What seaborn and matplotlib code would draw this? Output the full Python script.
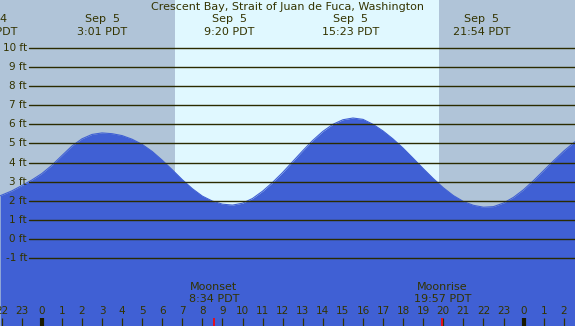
import numpy as np
import matplotlib
matplotlib.use("Agg")
import matplotlib.pyplot as plt
import seaborn as sns

# --- Data ---
TITLE = "Crescent Bay, Strait of Juan de Fuca, Washington"

# tide height (ft) against hours from midnight Sep 5 (PDT), read every half hour
tide_hours = [-2.07, -1.5, -1.0, -0.5, 0.0, 0.5, 1.0, 1.5, 2.0, 2.5, 3.0, 3.5, 4.0,
              4.5, 5.0, 5.5, 6.0, 6.5, 7.0, 7.5, 8.0, 8.5, 9.0, 9.5, 10.0, 10.5, 11.0,
              11.5, 12.0, 12.5, 13.0, 13.5, 14.0, 14.5, 15.0, 15.5, 16.0, 16.5, 17.0,
              17.5, 18.0, 18.5, 19.0, 19.5, 20.0, 20.5, 21.0, 21.5, 22.0, 22.5, 23.0,
              23.5, 24.0, 24.5, 25.0, 25.5, 26.0, 26.56]
tide_ft = [2.26, 2.51, 2.79, 3.08, 3.42, 3.85, 4.36, 4.86, 5.24, 5.47, 5.55, 5.51, 5.41,
           5.22, 4.95, 4.58, 4.12, 3.62, 3.10, 2.63, 2.24, 1.98, 1.82, 1.77, 1.87, 2.12, 2.50,
           2.96, 3.48, 4.05, 4.62, 5.16, 5.63, 6.00, 6.24, 6.33, 6.26, 6.00, 5.65,
           5.23, 4.75, 4.22, 3.68, 3.16, 2.68, 2.27, 1.96, 1.76, 1.66, 1.69, 1.88,
           2.18, 2.58, 3.06, 3.58, 4.10, 4.60, 5.09]

# tide extremes shown at the top
event_hours = [-2.62, 3.02, 9.33, 15.38, 21.9]
event_days = ["Sep  4", "Sep  5", "Sep  5", "Sep  5", "Sep  5"]
event_times = ["21:23 PDT", "3:01 PDT", "9:20 PDT", "15:23 PDT", "21:54 PDT"]

# daylight
sunrise, sunset = 6.64, 19.79

# moon
moon_hours = [8.57, 19.95]
moon_names = ["Moonset", "Moonrise"]
moon_times = ["8:34 PDT", "19:57 PDT"]

ft_levels = list(range(-1, 11))
tick_hours = list(range(-2, 27))
tick_labels = [str(h % 24) for h in tick_hours]

XLIM = (-2.08, 26.56)
YLIM = (-4.56, 12.51)

NIGHT = "#b0c4d8"
DAY = "#e0f8ff"
WATER = "#4060d4"
INK = "#333300"
LINE = "#2b2b00"
FS = 8

sns.set_style("white")
plt.rcParams["font.family"] = ["DejaVu Sans"]

fig = plt.figure(figsize=(5.75, 3.26), dpi=100)
ax = fig.add_axes([0, 0, 1, 1])
ax.set_facecolor(NIGHT)
ax.axvspan(sunrise, sunset, color=DAY, lw=0, zorder=0)

ax.fill_between(tide_hours, tide_ft, YLIM[0], color=WATER, lw=0, zorder=1)
sns.lineplot(x=tide_hours, y=tide_ft, color=WATER, lw=0.8, ax=ax, zorder=1)

for lvl in ft_levels:
    ax.axhline(lvl, xmin=29 / 575, xmax=1, color=LINE, lw=1.0, zorder=2)
    ax.text(27 / 575, lvl, f"{lvl} ft", transform=ax.get_yaxis_transform(),
            ha="right", va="center", fontsize=7.5, color=INK)

xt = ax.get_xaxis_transform()
ax.text(0.5, 0.979, TITLE, transform=ax.transAxes, ha="center", va="center",
        fontsize=FS, color=INK)
for h, d, t in zip(event_hours, event_days, event_times):
    ax.text(h, 0.941, d, transform=xt, ha="center", va="center", fontsize=FS, color=INK)
    ax.text(h, 0.902, t, transform=xt, ha="center", va="center", fontsize=FS, color=INK)

for h, lab in zip(tick_hours, tick_labels):
    ax.text(h, 0.045, lab, transform=xt, ha="center", va="center", fontsize=7.5, color=INK)
    thick = (h % 24 == 0)
    ax.vlines(h, 0, 0.026, transform=xt, color="#1a1a00" if thick else INK,
              lw=3 if thick else 0.9, zorder=3)

for h, n, t in zip(moon_hours, moon_names, moon_times):
    ax.text(h, 0.119, n, transform=xt, ha="center", va="center", fontsize=FS, color=INK)
    ax.text(h, 0.083, t, transform=xt, ha="center", va="center", fontsize=FS, color=INK)
    ax.vlines(h, 0, 0.026, transform=xt, color="red", lw=1.2, zorder=4)

ax.set_xlim(*XLIM)
ax.set_ylim(*YLIM)
ax.set_xticks([])
ax.set_yticks([])
for s in ax.spines.values():
    s.set_visible(False)

fig.savefig("out.png", dpi=100)
